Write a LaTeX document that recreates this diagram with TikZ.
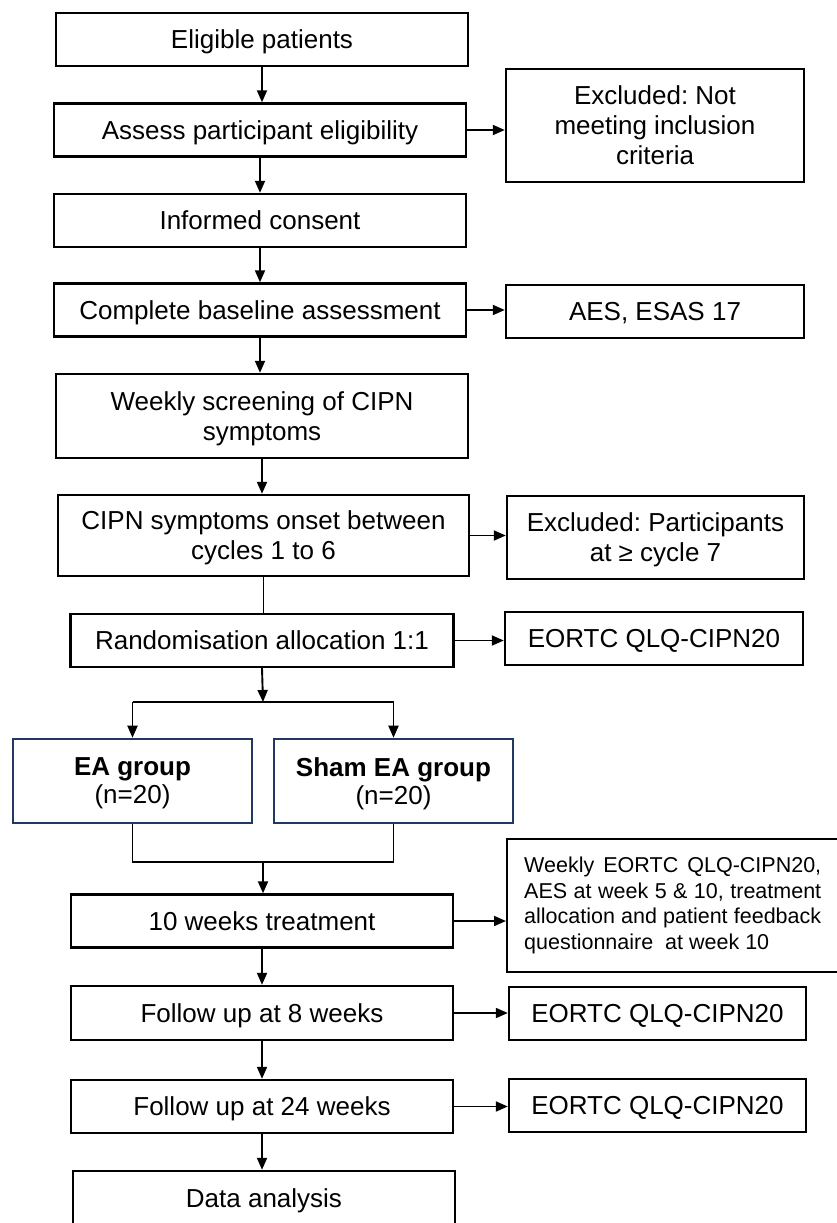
\documentclass[tikz,border=0pt]{standalone}
\usepackage{fontspec}
\setmainfont{Liberation Sans}
\usepackage{tikz}
\usetikzlibrary{arrows.meta, positioning, calc}
\definecolor{eanavy}{HTML}{1F3864}
\frenchspacing

\begin{document}
\begin{tikzpicture}[
  x=1pt, y=-1pt,
  box/.style={draw, line width=2.4pt, inner sep=0pt, align=center,
    text depth=0pt, font=\fontsize{26}{30}\selectfont},
  mainbox/.style={box, minimum width=412pt, minimum height=53pt},
  sidebox/.style={box, minimum width=298pt, minimum height=53pt},
  grpbox/.style={box, draw=eanavy, line width=2.6pt,
    minimum width=239pt, minimum height=84pt,
    font=\fontsize{26}{28}\selectfont},
  notebox/.style={box, anchor=west, inner xsep=17pt, text width=297pt,
    text depth=, align=justify, minimum height=133pt,
    font=\fontsize{21.5}{25.5}\selectfont},
  arr/.style={-{Triangle[length=12pt, width=10pt]}, line width=1.9pt},
  ln/.style={line width=1.9pt}
]
  \useasboundingbox (0,0) rectangle (837,1223);
  \clip (0,0) rectangle (837,1223);

  % Screening
  \node[mainbox] (elig) at (262, 39.5) {Eligible patients};
  \node[mainbox] (assess) at (260, 130) {Assess participant eligibility};
  \node[sidebox, minimum height=113pt] (excl1) at (655, 125.5)
    {Excluded: Not\\meeting inclusion\\criteria};
  \node[mainbox] (consent) at (260, 220.5) {Informed consent};
  \node[mainbox] (base) at (260, 310) {Complete baseline assessment};
  \node[sidebox] (aes) at (655, 311.5) {AES, ESAS 17};
  \node[mainbox, minimum height=84pt] (weekly) at (262, 416)
    {Weekly screening of CIPN\\symptoms};
  \node[mainbox, minimum width=411pt, minimum height=81pt] (onset)
    at (263.5, 535.5) {CIPN symptoms onset between\\cycles 1 to 6};
  \node[sidebox, minimum width=297pt, minimum height=83pt] (excl2)
    at (655.5, 537.5) {Excluded: Participants\\at ≥ cycle 7};

  \draw[arr] (elig.south) -- (elig.south |- assess.north);
  \draw[arr] (assess.south) -- (assess.south |- consent.north);
  \draw[arr] (consent.south) -- (consent.south |- base.north);
  \draw[arr] (base.south) -- (base.south |- weekly.north);
  \draw[arr] (weekly.south) -- (weekly.south |- onset.north);
  \draw[arr] (assess.east) -- (assess.east -| excl1.west);
  \draw[arr] (base.east) -- (base.east -| aes.west);
  \draw[arr] (onset.east) -- (onset.east -| excl2.west);

  % Randomisation
  \node[mainbox, minimum width=383pt] (rand) at (262, 640.5)
    {Randomisation allocation 1:1};
  \node[sidebox] (qlq1) at (654, 638.5) {EORTC QLQ-CIPN20};
  \coordinate (split) at (263, 702);
  \node[grpbox] (ea) at (132.5, 781) {\textbf{EA group}\\(n=20)};
  \node[grpbox] (sham) at (393.5, 781) {\textbf{Sham EA group}\\(n=20)};
  \coordinate (join) at (263, 862);

  \draw[ln] (onset.south) -- (onset.south |- rand.north);
  \draw[arr] (rand.east) -- (rand.east -| qlq1.west);
  \draw[arr] (rand.south) -- (split);
  \draw[ln] (ea.north |- split) -- (sham.north |- split);
  \draw[arr] (ea.north |- split) -- (ea.north);
  \draw[arr] (sham.north |- split) -- (sham.north);
  \draw[ln] (ea.south) -- (ea.south |- join) -- (sham.south |- join)
    -- (sham.south);

  % Treatment and follow up
  \node[mainbox, minimum width=382pt] (treat) at (262, 921)
    {10 weeks treatment};
  \node[notebox] (note) at (506, 905.5)
    {Weekly EORTC QLQ-CIPN20,\linebreak
     AES at week 5 \& 10, treatment\linebreak
     allocation and patient feedback\linebreak
     questionnaire~ at week 10};
  \node[mainbox, minimum width=382pt, minimum height=54pt] (fu8)
    at (262, 1013) {Follow up at 8 weeks};
  \node[sidebox, minimum width=297pt] (qlq2) at (657.5, 1013.5)
    {EORTC QLQ-CIPN20};
  \node[mainbox, minimum width=382pt] (fu24) at (262, 1106.5)
    {Follow up at 24 weeks};
  \node[sidebox, minimum width=297pt] (qlq3) at (657.5, 1105.5)
    {EORTC QLQ-CIPN20};
  \node[mainbox, minimum width=382pt, minimum height=55pt] (data)
    at (264, 1198.5) {Data analysis};

  \draw[arr] (join) -- (join |- treat.north);
  \draw[arr] (treat.east) -- (treat.east -| note.west);
  \draw[arr] (treat.south) -- (treat.south |- fu8.north);
  \draw[arr] (fu8.east) -- (fu8.east -| qlq2.west);
  \draw[arr] (fu8.south) -- (fu8.south |- fu24.north);
  \draw[arr] (fu24.east) -- (fu24.east -| qlq3.west);
  \draw[arr] (fu24.south) -- (fu24.south |- data.north);
\end{tikzpicture}
\end{document}
